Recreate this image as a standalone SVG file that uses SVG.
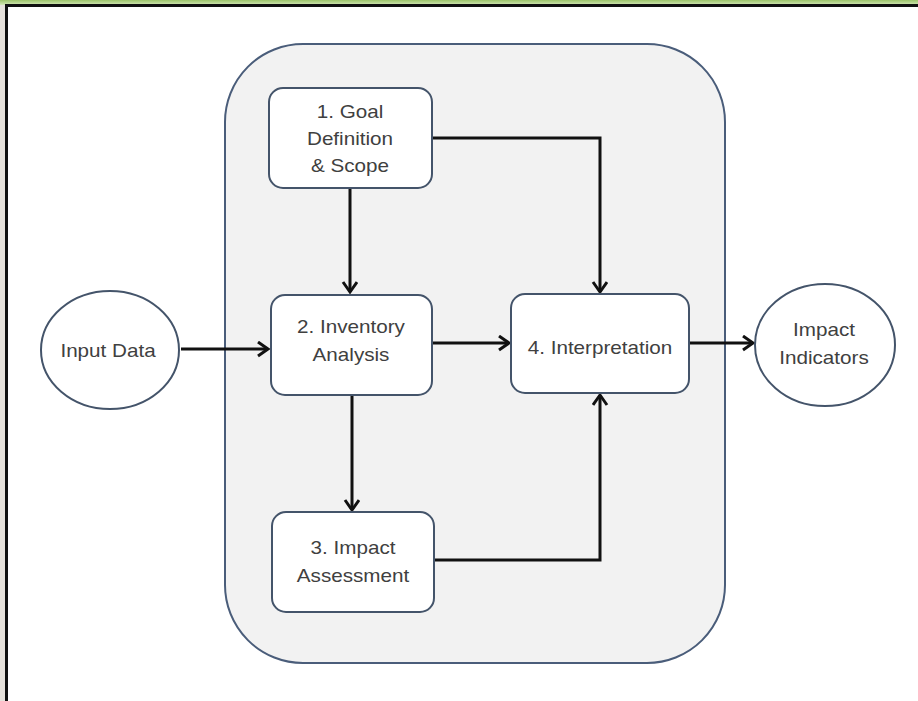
<svg xmlns="http://www.w3.org/2000/svg" width="918" height="701" viewBox="0 0 918 701">
  <defs>
    <linearGradient id="green" x1="0" y1="0" x2="0" y2="1">
      <stop offset="0" stop-color="#9cc46a"/>
      <stop offset="1" stop-color="#d3e8b8"/>
    </linearGradient>
    <marker id="arrow" markerUnits="userSpaceOnUse" markerWidth="20" markerHeight="20" refX="13" refY="8" orient="auto">
      <path d="M3,1 L13,8 L3,15" fill="none" stroke="#111" stroke-width="3"/>
    </marker>
  </defs>
  <style>
    .box { fill: #ffffff; stroke: #44546a; stroke-width: 2; }
    .ell { fill: #ffffff; stroke: #44546a; stroke-width: 2; }
    .lbl { font-family: "Liberation Sans", Arial, sans-serif; font-size: 17.5px; fill: #404040; text-anchor: middle; }
    .conn { fill: none; stroke: #111; stroke-width: 3; }
  </style>
  <rect x="0" y="0" width="918" height="701" fill="#ffffff"/>
  <rect x="0" y="0" width="918" height="5" fill="url(#green)"/>
  <rect x="0" y="5" width="6" height="696" fill="#e6e2dc"/>
  <rect x="5" y="4" width="913" height="3" fill="#111"/>
  <rect x="5" y="4" width="3" height="697" fill="#111"/>

  <g id="container">
    <rect x="225" y="44" width="500" height="619" rx="78" ry="78" fill="#f2f2f2" stroke="#4a5d7a" stroke-width="2"/>
  </g>

  <g id="connectors">
    <path class="conn" d="M181,349 H268" marker-end="url(#arrow)"/>
    <path class="conn" d="M350,188 V292" marker-end="url(#arrow)"/>
    <path class="conn" d="M432,343 H509" marker-end="url(#arrow)"/>
    <path class="conn" d="M352,395 V510" marker-end="url(#arrow)"/>
    <path class="conn" d="M432,138 H600 V292" marker-end="url(#arrow)"/>
    <path class="conn" d="M434,560 H600 V395" marker-end="url(#arrow)"/>
    <path class="conn" d="M689,343 H753" marker-end="url(#arrow)"/>
  </g>

  <g id="input-data">
    <ellipse class="ell" cx="110" cy="350" rx="69" ry="59"/>
    <text class="lbl" transform="translate(108,357) scale(1.18,1)">Input Data</text>
  </g>

  <g id="goal">
    <rect class="box" x="269" y="88" width="163" height="100" rx="14"/>
    <text class="lbl" transform="translate(350,118) scale(1.18,1)">1. Goal</text>
    <text class="lbl" transform="translate(350,145) scale(1.18,1)">Definition</text>
    <text class="lbl" transform="translate(350,172) scale(1.18,1)">&amp; Scope</text>
  </g>

  <g id="inventory">
    <rect class="box" x="271" y="295" width="161" height="100" rx="14"/>
    <text class="lbl" transform="translate(351,333) scale(1.18,1)">2. Inventory</text>
    <text class="lbl" transform="translate(351,361) scale(1.18,1)">Analysis</text>
  </g>

  <g id="impact-assessment">
    <rect class="box" x="272" y="512" width="162" height="100" rx="14"/>
    <text class="lbl" transform="translate(353,554) scale(1.18,1)">3. Impact</text>
    <text class="lbl" transform="translate(353,582) scale(1.18,1)">Assessment</text>
  </g>

  <g id="interpretation">
    <rect class="box" x="511" y="294" width="178" height="99" rx="14"/>
    <text class="lbl" transform="translate(600,354) scale(1.18,1)">4. Interpretation</text>
  </g>

  <g id="impact-indicators">
    <ellipse class="ell" cx="825" cy="345" rx="70" ry="61"/>
    <text class="lbl" transform="translate(824,336) scale(1.18,1)">Impact</text>
    <text class="lbl" transform="translate(824,364) scale(1.18,1)">Indicators</text>
  </g>
</svg>
